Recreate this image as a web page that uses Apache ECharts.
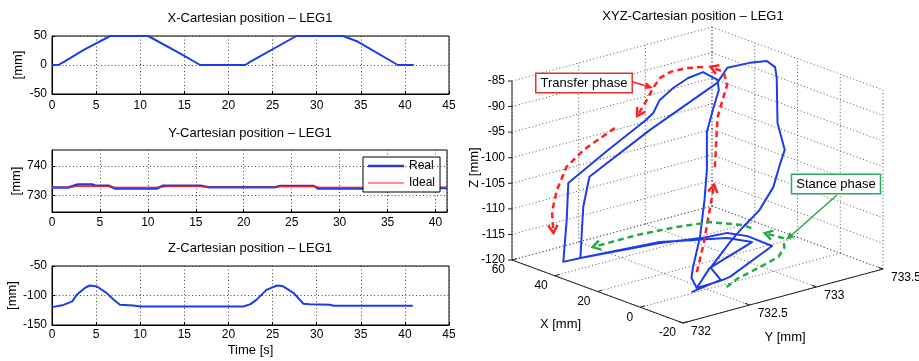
<!DOCTYPE html>
<html><head><meta charset="utf-8">
<script src="https://cdn.jsdelivr.net/npm/echarts@6/dist/echarts.min.js"></script>
<style>html,body{margin:0;padding:0;background:#fff}#c{width:919px;height:361px}</style>
</head><body><div id="c"></div>
<script>
// ---------------- data ----------------
// X-Cartesian position
const xTime = [0, 0.8, 1.4, 3.6, 6.6, 10.9, 14.5, 16.8, 21.9, 22.5, 27.7, 33.0, 34.7, 39.2, 41.0];
const xPos  = [0, 0.5, 5.7, 26, 50, 50, 20, 0, 0, 5.7, 50, 50, 40, 0, 0];
// Y-Cartesian position
const yRealTime = [0, 1.7, 2.7, 4.2, 4.5, 5.9, 6.6, 10.9, 11.6, 15.5, 16.3, 23.3, 23.8, 27.3, 27.8, 37.5, 38.2, 41.2];
const yReal     = [732.7, 732.7, 733.7, 733.7, 733.3, 733.3, 732.3, 732.3, 733.3, 733.3, 732.8, 732.8, 733.2, 733.2, 732.3, 732.3, 732.5, 732.5];
const yIdealTime = [0, 2.0, 2.6, 5.8, 6.5, 11.5, 12.2, 15.6, 16.3, 23.3, 24.0, 27.4, 28.0, 41.2];
const yIdeal     = [732.8, 732.8, 733.0, 733.0, 732.8, 732.8, 733.0, 733.0, 732.8, 732.8, 733.0, 733.0, 732.8, 732.8];
// Z-Cartesian position
const zTime = [0, 1.3, 2.3, 2.8, 3.8, 4.3, 5.1, 6.2, 7.0, 7.7, 9.2, 10, 21.7, 22.5, 23.2, 24.3, 25.5, 26.2, 27.4, 28.5, 29.2, 31.5, 31.9, 40.9];
const zPos  = [-119.7, -116, -110, -98.9, -86.4, -83, -84.7, -96, -107.3, -115.8, -117, -118.6, -118.6, -114.7, -107, -90.4, -83, -84.5, -96, -114, -115, -115.8, -117.5, -117.5];

// tick labels
const xTicks2d = [0, 5, 10, 15, 20, 25, 30, 35, 40, 45];
const yTicksY = [730, 740];
const xTicks3d = [-20, 0, 20, 40, 60];
const yTicks3d = [732, 732.5, 733, 733.5];
const zTicks3d = [-120, -115, -110, -105, -100, -95, -90, -85];

// XYZ trajectory (3D)
const pathX = [1.0, 1, 1.5, 2, 3, 5, 10, 15, 20, 25, 28, 30, 32, 34, 35, 36, 42, 48, 47.5, 46.6, 46.1, 41.3, 36.5, 35.4, 29.0, 16.9, 2.5, 1.6, 1.0, 13.1, 23.8, 31.7, 42.0, 46.1, 46, 46, 45, 38, 27, 26, 25.5, 25, 23, 21, 15, 11, 9, 7, 6, 5, 4, 2, 2.3, -0.9];
const pathY = [732.44, 732.40, 732.42, 732.48, 732.53, 732.58, 732.66, 732.79, 732.91, 732.98, 732.92, 732.84, 732.76, 732.69, 732.66, 732.62, 732.43, 732.23, 732.21, 732.17, 732.29, 732.81, 733.06, 733.22, 733.27, 733.26, 732.71, 732.62, 732.44, 732.73, 733.22, 733.16, 732.82, 732.29, 732.30, 732.31, 732.34, 732.68, 733.01, 733.07, 733.23, 733.35, 733.38, 733.36, 733.27, 733.26, 733.19, 733.11, 732.99, 732.85, 732.74, 732.56, 732.64, 732.37];
const pathZ = [-119.5, -117.2, -115.3, -110, -103.2, -98.0, -91.9, -88.8, -87.0, -86.3, -84.8, -85.7, -87.4, -89.6, -92.0, -93.3, -98.8, -104.7, -111.7, -119.5, -119.5, -119.5, -119.5, -119.5, -119.5, -119.5, -119.5, -119.5, -119.5, -119.5, -119.5, -119.5, -119.5, -119.5, -114.1, -109.6, -103.8, -96.0, -87.4, -84.7, -84.8, -85.2, -86.3, -87.8, -95.2, -99.8, -102.0, -105.4, -108.9, -111.1, -113.0, -116.5, -119.5, -119.5];

// phase annotation arrows (3D)
const transferA_X = [5, 10, 18, 24, 27];
const transferA_Y = [732.64, 732.74, 732.94, 733.01, 732.96];
const transferA_Z = [-97.9, -89.6, -85.9, -84.8, -83.9];
const transferB_X = [28, 30, 32, 33, 34, 35, 37];
const transferB_Y = [732.92, 732.83, 732.74, 732.68, 732.64, 732.61, 732.57];
const transferB_Z = [-83.8, -83.7, -84.1, -85.0, -86.9, -89.2, -92.3];
const transferC_X = [40, 44, 47, 49, 50, 50];
const transferC_Y = [732.45, 732.28, 732.20, 732.16, 732.14, 732.15];
const transferC_Z = [-94.3, -98.0, -101.2, -105.8, -110.0, -114.2];
const transferD_X = [1, 1, 1, 1];
const transferD_Y = [732.44, 732.49, 732.53, 732.57];
const transferD_Z = [-116.4, -111.4, -105.9, -100.2];
const stanceA_X = [34.1, 38.1, 46.8, 49.7, 51.7, 51.6];
const stanceA_Y = [733.38, 733.38, 733.27, 733.07, 732.80, 732.47];
const stanceA_Z = [-119.5, -119.5, -119.5, -119.5, -119.5, -119.5];
const stanceB_X = [-4.2, -0.3, 3.9, 7.7, 13.6, 20.6, 27.8];
const stanceB_Y = [732.58, 732.72, 732.96, 733.16, 733.30, 733.40, 733.38];
const stanceB_Z = [-119.5, -119.5, -119.5, -119.5, -119.5, -119.5, -119.5];

// ---------------- layout / style ----------------
const FONT = '"Liberation Sans", Arial, Helvetica, sans-serif';
const BLUE = '#1e3ce6', RED = '#ff2020', GREEN = '#22aa4a';
const GRID_LS = {color: '#444', type: [1, 2.5], width: 1};
const xLim3d = [-20, 60], yLim3d = [732, 733.5], zLim3d = [-120, -85];
// 3D view: origin corner (X=60, Y=732, Z=-120) and full-axis vectors on the view plane
const O3 = [42, 260], AX = [171, 63], AY = [200, -54], AZ = [0, -179];
function proj(X, Y, Z) {
  const u = (xLim3d[1] - X) / (xLim3d[1] - xLim3d[0]);
  const v = (Y - yLim3d[0]) / (yLim3d[1] - yLim3d[0]);
  const w = (Z - zLim3d[0]) / (zLim3d[1] - zLim3d[0]);
  return [O3[0] + u * AX[0] + v * AY[0] + w * AZ[0], O3[1] + u * AX[1] + v * AY[1] + w * AZ[1]];
}
const zip = (a, b) => a.map((v, i) => [v, b[i]]);

function xAxisCfg(gi, max, margin) {
  return {
    gridIndex: gi, type: 'value', min: 0, max: max, interval: 5,
    axisLine: {show: true, onZero: false, lineStyle: {color: '#000'}},
    axisTick: {show: true, inside: true, length: 3, lineStyle: {color: '#000'}},
    axisLabel: {color: '#000', fontSize: 12, fontFamily: FONT, margin: margin,
      formatter: v => (xTicks2d.indexOf(v) >= 0 ? String(v) : '')},
    splitLine: {show: true, lineStyle: GRID_LS}
  };
}
function yAxisCfg(gi, min, max, interval) {
  return {
    gridIndex: gi, type: 'value', min: min, max: max, interval: interval,
    name: '[mm]', nameLocation: 'middle', nameGap: 27,
    nameTextStyle: {color: '#000', fontSize: 13, fontFamily: FONT},
    axisLine: {show: true, onZero: false, lineStyle: {color: '#000'}},
    axisTick: {show: true, inside: true, length: 3, lineStyle: {color: '#000'}},
    axisLabel: {color: '#000', fontSize: 12, fontFamily: FONT, margin: 5},
    splitLine: {show: true, lineStyle: GRID_LS}
  };
}
const yAxisY = yAxisCfg(1, 724.3, 745.5, null);
delete yAxisY.interval;
yAxisY.axisLabel.customValues = yTicksY;
yAxisY.axisTick.customValues = yTicksY;
yAxisY.splitLine = {show: false};

function vHead(p1, p2, len, ang) {
  const a = Math.atan2(p2[1] - p1[1], p2[0] - p1[0]);
  return [[p2[0] - len * Math.cos(a - ang), p2[1] - len * Math.sin(a - ang)], p2,
          [p2[0] - len * Math.cos(a + ang), p2[1] - len * Math.sin(a + ang)]];
}

function render3d(params, api) {
  const c = (X, Y, Z) => api.coord(proj(X, Y, Z));
  const ch = [];
  const seg = (p, q, style) => ch.push({type: 'line', shape: {x1: p[0], y1: p[1], x2: q[0], y2: q[1]}, style: style});
  const gs = {stroke: '#555', lineWidth: 1, lineDash: [1, 2.5]};
  const [x0, x1] = xLim3d, [y0, y1] = yLim3d, [z0, z1] = zLim3d;
  // floor grid
  xTicks3d.forEach(t => seg(c(t, y0, z0), c(t, y1, z0), gs));
  yTicks3d.forEach(t => seg(c(x1, t, z0), c(x0, t, z0), gs));
  // back wall X = max
  zTicks3d.forEach(t => seg(c(x1, y0, t), c(x1, y1, t), gs));
  yTicks3d.forEach(t => seg(c(x1, t, z0), c(x1, t, z1), gs));
  // back wall Y = max
  zTicks3d.forEach(t => seg(c(x1, y1, t), c(x0, y1, t), gs));
  xTicks3d.forEach(t => seg(c(t, y1, z0), c(t, y1, z1), gs));
  // axes
  const as = {stroke: '#222', lineWidth: 1};
  seg(c(x1, y0, z0), c(x1, y0, z1), as);
  seg(c(x1, y0, z0), c(x0, y0, z0), as);
  seg(c(x0, y0, z0), c(x0, y1, z0), as);
  const ts = {font: '12px ' + FONT, fill: '#000'};
  zTicks3d.forEach(t => {
    const p = c(x1, y0, t);
    seg([p[0] - 4, p[1]], p, as);
    ch.push({type: 'text', style: Object.assign({text: String(t), x: p[0] - 7, y: p[1], align: 'right', verticalAlign: 'middle', textAlign: 'right', textVerticalAlign: 'middle'}, ts)});
  });
  xTicks3d.forEach(t => {
    const p = c(t, y0, z0);
    seg(p, [p[0] + 4.8, p[1] - 1.3], as);
    ch.push({type: 'text', style: Object.assign({text: String(t), x: p[0] - 7, y: p[1] + 10, align: 'right', verticalAlign: 'middle', textAlign: 'right', textVerticalAlign: 'middle'}, ts)});
  });
  yTicks3d.forEach(t => {
    const p = c(x0, t, z0);
    seg(p, [p[0] - 4.7, p[1] - 1.7], as);
    ch.push({type: 'text', style: Object.assign({text: String(t), x: p[0] + 8, y: p[1] + 9, align: 'left', verticalAlign: 'middle', textAlign: 'left', textVerticalAlign: 'middle'}, ts)});
  });
  const ns = {font: '13px ' + FONT, fill: '#000', align: 'center', verticalAlign: 'middle', textAlign: 'center', textVerticalAlign: 'middle'};
  const xm = c((x0 + x1) / 2, y0, z0), ym = c(x0, (y0 + y1) / 2, z0), zm = c(x1, y0, (z0 + z1) / 2);
  ch.push({type: 'text', style: Object.assign({text: 'X [mm]', x: xm[0] - 37, y: xm[1] + 33}, ns)});
  ch.push({type: 'text', style: Object.assign({text: 'Y [mm]', x: ym[0] + 2, y: ym[1] + 41}, ns)});
  ch.push({type: 'text', x: zm[0] - 38, y: zm[1] - 3, rotation: Math.PI / 2, style: Object.assign({text: 'Z [mm]', x: 0, y: 0}, ns)});
  // trajectory
  ch.push({type: 'polyline', shape: {points: pathX.map((x, i) => c(x, pathY[i], pathZ[i]))},
    style: {stroke: BLUE, lineWidth: 2, fill: null, lineJoin: 'round'}});
  // dashed phase arrows
  const arrow = (X, Y, Z, color) => {
    const pts = X.map((x, i) => c(x, Y[i], Z[i]));
    ch.push({type: 'polyline', shape: {points: pts}, style: {stroke: color, lineWidth: 2.5, fill: null, lineDash: [6, 4]}});
    ch.push({type: 'polyline', shape: {points: vHead(pts[pts.length - 2], pts[pts.length - 1], 9, 0.55)}, style: {stroke: color, lineWidth: 2.5, fill: null}});
  };
  arrow(transferA_X, transferA_Y, transferA_Z, RED);
  arrow(transferB_X, transferB_Y, transferB_Z, RED);
  arrow(transferC_X, transferC_Y, transferC_Z, RED);
  arrow(transferD_X, transferD_Y, transferD_Z, RED);
  arrow(stanceA_X, stanceA_Y, stanceA_Z, GREEN);
  arrow(stanceB_X, stanceB_Y, stanceB_Z, GREEN);
  return {type: 'group', children: ch};
}

function pointer(p1, p2, color) {
  const a = Math.atan2(p2[1] - p1[1], p2[0] - p1[0]), L = 8, W = 3.5;
  const b = [p2[0] - L * Math.cos(a), p2[1] - L * Math.sin(a)];
  return [
    {type: 'line', shape: {x1: p1[0], y1: p1[1], x2: b[0], y2: b[1]}, style: {stroke: color, lineWidth: 1.5}, z: 100},
    {type: 'polygon', shape: {points: [p2, [b[0] + W * Math.sin(a), b[1] - W * Math.cos(a)], [b[0] - W * Math.sin(a), b[1] + W * Math.cos(a)]]}, style: {fill: color}, z: 100}
  ];
}
const boxText = (txt, x, y, color) => ({type: 'text', z: 101, style: {text: txt, x: x, y: y, align: 'center', verticalAlign: 'middle', textAlign: 'center', textVerticalAlign: 'middle', font: '13px ' + FONT, fill: '#000', backgroundColor: '#fff', borderColor: color, borderWidth: 1.5, padding: [3, 4, 2, 4]}});

const titleCfg = (text, x, y) => ({text: text, left: x, top: y, textAlign: 'center', padding: 0,
  textStyle: {color: '#000', fontSize: 13, fontWeight: 'normal', fontFamily: FONT}});

// legend line icons (thin bars inside a 36x12 box)
const ICON_REAL = 'path://M0,0h0.05v0.05h-0.05z M0,4.75h36v2.5h-36z M35.95,11.95h0.05v0.05h-0.05z';
const ICON_IDEAL = 'path://M0,0h0.05v0.05h-0.05z M0,5.5h36v1.1h-36z M35.95,11.95h0.05v0.05h-0.05z';

const chart = echarts.init(document.getElementById('c'), null, {renderer: 'canvas'});
chart.setOption({
  animation: false,
  backgroundColor: '#fff',
  title: [
    titleCfg('X-Cartesian position \u2013 LEG1', 250, 12),
    titleCfg('Y-Cartesian position \u2013 LEG1', 250, 127),
    titleCfg('Z-Cartesian position \u2013 LEG1', 250, 242),
    titleCfg('XYZ-Cartesian position \u2013 LEG1', 693, 10)
  ],
  grid: [
    {left: 52, top: 36, width: 397, height: 58, show: true, borderColor: '#000', borderWidth: 1},
    {left: 52, top: 150, width: 395, height: 62, show: true, borderColor: '#000', borderWidth: 1},
    {left: 52, top: 266, width: 397, height: 59, show: true, borderColor: '#000', borderWidth: 1},
    {left: 470, top: 0, width: 449, height: 361}
  ],
  xAxis: [
    xAxisCfg(0, 45, 6),
    xAxisCfg(1, 41.2, 5),
    Object.assign(xAxisCfg(2, 45, 4), {name: 'Time [s]', nameLocation: 'middle', nameGap: 19,
      nameTextStyle: {color: '#000', fontSize: 13, fontFamily: FONT}}),
    {gridIndex: 3, type: 'value', min: 0, max: 449, show: false}
  ],
  yAxis: [
    yAxisCfg(0, -50, 50, 50),
    yAxisY,
    yAxisCfg(2, -150, -50, 50),
    {gridIndex: 3, type: 'value', min: 0, max: 361, inverse: true, show: false}
  ],
  legend: {
    data: [{name: 'Real', icon: ICON_REAL}, {name: 'Ideal', icon: ICON_IDEAL}],
    orient: 'vertical', left: 363, top: 157, selectedMode: false,
    itemWidth: 36, itemHeight: 12, itemGap: 5, padding: [3, 5, 3, 5],
    borderColor: '#000', borderWidth: 1, backgroundColor: '#fff',
    textStyle: {color: '#000', fontSize: 12, fontFamily: FONT}
  },
  series: [
    {type: 'line', name: 'X', xAxisIndex: 0, yAxisIndex: 0, data: zip(xTime, xPos), symbol: 'none',
      lineStyle: {color: BLUE, width: 2}, itemStyle: {color: BLUE}},
    {type: 'line', name: 'Real', xAxisIndex: 1, yAxisIndex: 1, data: zip(yRealTime, yReal), symbol: 'none',
      lineStyle: {color: BLUE, width: 2.5}, itemStyle: {color: BLUE},
      markLine: {silent: true, symbol: 'none', label: {show: false}, lineStyle: GRID_LS,
        data: yTicksY.map(v => ({yAxis: v}))}},
    {type: 'line', name: 'Ideal', xAxisIndex: 1, yAxisIndex: 1, data: zip(yIdealTime, yIdeal), symbol: 'none',
      lineStyle: {color: RED, width: 1}, itemStyle: {color: RED}},
    {type: 'line', name: 'Z', xAxisIndex: 2, yAxisIndex: 2, data: zip(zTime, zPos), symbol: 'none',
      lineStyle: {color: BLUE, width: 2}, itemStyle: {color: BLUE}},
    {type: 'custom', name: 'XYZ', xAxisIndex: 3, yAxisIndex: 3, data: [[0, 0]], renderItem: render3d, silent: true}
  ],
  graphic: [
    boxText('Transfer phase', 584, 83, '#e03030'),
    ...pointer([633, 82], [653, 88], RED),
    boxText('Stance phase', 836, 184, '#2aa860'),
    ...pointer([837, 195], [786, 240], GREEN)
  ]
});
</script></body></html>
